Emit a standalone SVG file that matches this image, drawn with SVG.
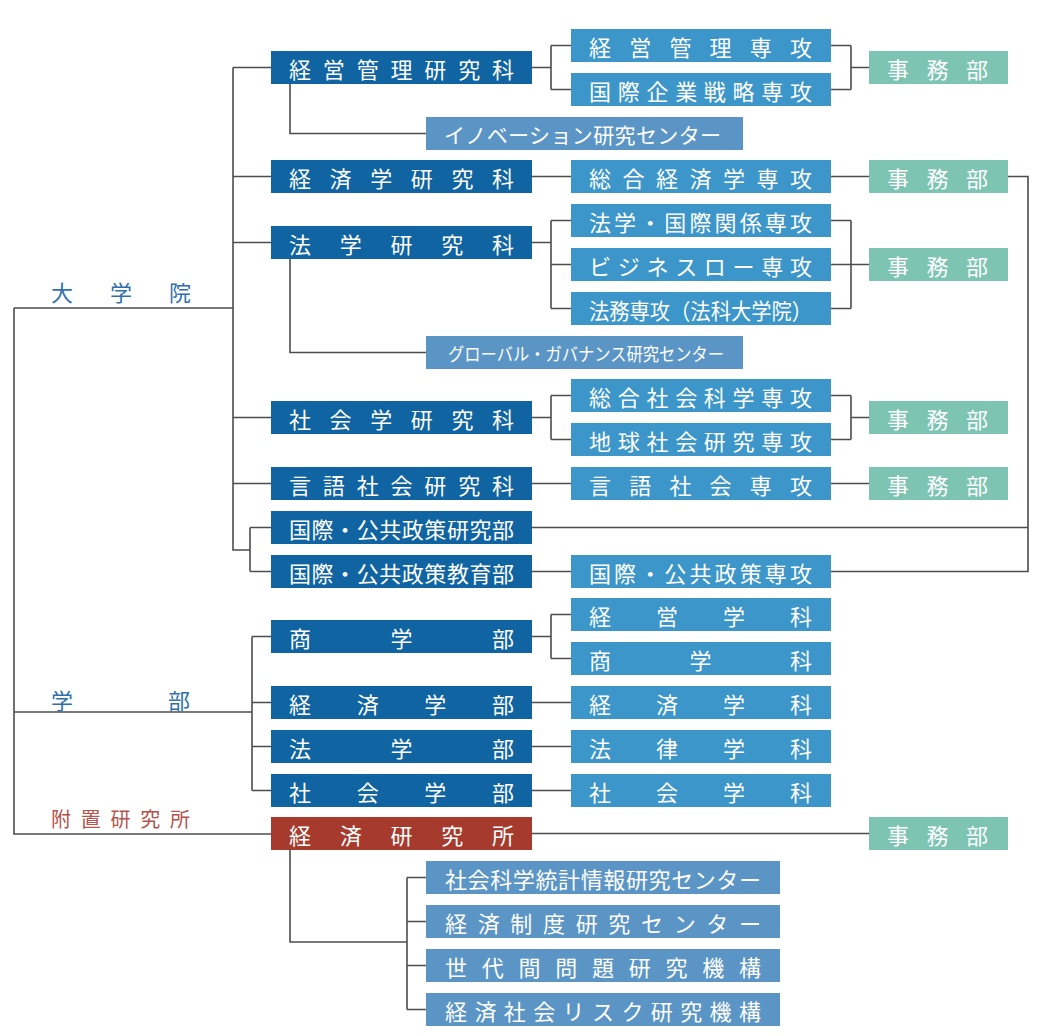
<svg xmlns="http://www.w3.org/2000/svg" width="1040" height="1036" viewBox="0 0 1040 1036">
<style>
text{font-family:"Noto Sans CJK JP","Noto Sans",sans-serif;font-size:22px;dominant-baseline:central}
.bt{fill:#ffffff}
.a{fill:#0f64a1}
.b{fill:#3c96c9}
.c{fill:#7dc4b3}
.d{fill:#5b95c6}
.r{fill:#a63b2d}
.lb{fill:#2f6fae}
.lr{fill:#b5534c}
.ln{fill:none;stroke:#4d4d4d;stroke-width:1.6}
</style>
<rect width="1040" height="1036" fill="#ffffff"/>
<g id="connectors" class="ln">
<path d="M14,308 H233 M14,308 V834 H271"/>
<path d="M233,67.5 V550 H250 M233,67.5 H271 M233,176.5 H271 M233,242.5 H271 M233,417.5 H271 M233,483.5 H271"/>
<path d="M250,527.5 V571.5 M250,527.5 H271 M250,571.5 H271"/>
<path d="M14,712 H252 M252,636.5 V790.5 M252,636.5 H271 M252,702.5 H271 M252,746.5 H271 M252,790.5 H271"/>
<path d="M532,67.5 H551 M551,45.5 V89.5 M551,45.5 H571 M551,89.5 H571 M831,45.5 H851 M831,89.5 H851 M851,45.5 V89.5 M851,67.5 H869"/>
<path d="M290,84 V133.5 H426"/>
<path d="M532,176.5 H571 M831,176.5 H869 M1008,176.5 H1028 V571.5 H831 M532,527.5 H1028"/>
<path d="M532,242.5 H551 M551,220.5 V308.5 M551,220.5 H571 M551,264.5 H571 M551,308.5 H571 M831,220.5 H851 M831,308.5 H851 M851,220.5 V308.5 M831,264.5 H869"/>
<path d="M290,259 V352.5 H426"/>
<path d="M532,417.5 H551 M551,395.5 V439.5 M551,395.5 H571 M551,439.5 H571 M831,395.5 H851 M831,439.5 H851 M851,395.5 V439.5 M851,417.5 H869"/>
<path d="M532,483.5 H571 M831,483.5 H869 M532,571.5 H571"/>
<path d="M532,636.5 H551 M551,614.5 V658.5 M551,614.5 H571 M551,658.5 H571 M532,702.5 H571 M532,746.5 H571 M532,790.5 H571"/>
<path d="M532,833.5 H869 M290,850 V942 H407 M407,877.5 V1009.5 M407,877.5 H426 M407,921.5 H426 M407,965.5 H426 M407,1009.5 H426"/>
</g>
<g id="label-daigakuin"><text class="lb" x="51" y="291" textLength="140" lengthAdjust="spacing">大学院</text></g>
<g id="label-gakubu"><text class="lb" x="51" y="699" textLength="139" lengthAdjust="spacing">学部</text></g>
<g id="label-fuchi"><text class="lr" x="51" y="818" style="font-size:20px" textLength="139" lengthAdjust="spacing">附置研究所</text></g>
<g id="n-keiei-kenkyuka"><rect class="a" x="271" y="51" width="261" height="33"/><text class="bt" x="289" y="67.5" textLength="225" lengthAdjust="spacing">経営管理研究科</text></g>
<g id="n-keiei-senko"><rect class="b" x="571" y="29" width="260" height="33"/><text class="bt" x="589" y="45.5" textLength="223" lengthAdjust="spacing">経営管理専攻</text></g>
<g id="n-kokusai-kigyo"><rect class="b" x="571" y="73" width="260" height="33"/><text class="bt" x="589" y="89.5" textLength="223" lengthAdjust="spacing">国際企業戦略専攻</text></g>
<g id="n-jimu1"><rect class="c" x="869" y="51" width="139" height="33"/><text class="bt" x="887" y="67.5" textLength="101" lengthAdjust="spacing">事務部</text></g>
<g id="n-innovation"><rect class="d" x="426" y="117" width="317" height="33"/><text class="bt" x="444" y="133.5" style="font-size:21px" textLength="277" lengthAdjust="spacing">イノベーション研究センター</text></g>
<g id="n-keizai-kenkyuka"><rect class="a" x="271" y="160" width="261" height="33"/><text class="bt" x="289" y="176.5" textLength="225" lengthAdjust="spacing">経済学研究科</text></g>
<g id="n-sogo-keizai"><rect class="b" x="571" y="160" width="260" height="33"/><text class="bt" x="589" y="176.5" textLength="223" lengthAdjust="spacing">総合経済学専攻</text></g>
<g id="n-jimu2"><rect class="c" x="869" y="160" width="139" height="33"/><text class="bt" x="887" y="176.5" textLength="101" lengthAdjust="spacing">事務部</text></g>
<g id="n-hogaku-kenkyuka"><rect class="a" x="271" y="226" width="261" height="33"/><text class="bt" x="289" y="242.5" textLength="225" lengthAdjust="spacing">法学研究科</text></g>
<g id="n-hogaku-kokusai"><rect class="b" x="571" y="204" width="260" height="33"/><text class="bt" x="589" y="220.5" textLength="223" lengthAdjust="spacing">法学・国際関係専攻</text></g>
<g id="n-business-law"><rect class="b" x="571" y="248" width="260" height="33"/><text class="bt" x="589" y="264.5" textLength="223" lengthAdjust="spacing">ビジネスロー専攻</text></g>
<g id="n-homu"><rect class="b" x="571" y="292" width="260" height="33"/><text class="bt" x="589" y="308.5" textLength="223" lengthAdjust="spacingAndGlyphs">法務専攻（法科大学院）</text></g>
<g id="n-jimu3"><rect class="c" x="869" y="248" width="139" height="33"/><text class="bt" x="887" y="264.5" textLength="101" lengthAdjust="spacing">事務部</text></g>
<g id="n-global"><rect class="d" x="426" y="336" width="317" height="33"/><text class="bt" x="448" y="352.5" style="font-size:18px" textLength="276" lengthAdjust="spacingAndGlyphs">グローバル・ガバナンス研究センター</text></g>
<g id="n-shakai-kenkyuka"><rect class="a" x="271" y="401" width="261" height="33"/><text class="bt" x="289" y="417.5" textLength="225" lengthAdjust="spacing">社会学研究科</text></g>
<g id="n-sogo-shakai"><rect class="b" x="571" y="379" width="260" height="33"/><text class="bt" x="589" y="395.5" textLength="223" lengthAdjust="spacing">総合社会科学専攻</text></g>
<g id="n-chikyu"><rect class="b" x="571" y="423" width="260" height="33"/><text class="bt" x="589" y="439.5" textLength="223" lengthAdjust="spacing">地球社会研究専攻</text></g>
<g id="n-jimu4"><rect class="c" x="869" y="401" width="139" height="33"/><text class="bt" x="887" y="417.5" textLength="101" lengthAdjust="spacing">事務部</text></g>
<g id="n-gengo-kenkyuka"><rect class="a" x="271" y="467" width="261" height="33"/><text class="bt" x="289" y="483.5" textLength="225" lengthAdjust="spacing">言語社会研究科</text></g>
<g id="n-gengo-senko"><rect class="b" x="571" y="467" width="260" height="33"/><text class="bt" x="589" y="483.5" textLength="223" lengthAdjust="spacing">言語社会専攻</text></g>
<g id="n-jimu5"><rect class="c" x="869" y="467" width="139" height="33"/><text class="bt" x="887" y="483.5" textLength="101" lengthAdjust="spacing">事務部</text></g>
<g id="n-kokyo-kenkyubu"><rect class="a" x="271" y="511" width="261" height="33"/><text class="bt" x="289" y="527.5" textLength="225" lengthAdjust="spacing">国際・公共政策研究部</text></g>
<g id="n-kokyo-kyoikubu"><rect class="a" x="271" y="555" width="261" height="33"/><text class="bt" x="289" y="571.5" textLength="225" lengthAdjust="spacing">国際・公共政策教育部</text></g>
<g id="n-kokyo-senko"><rect class="b" x="571" y="555" width="260" height="33"/><text class="bt" x="589" y="571.5" textLength="223" lengthAdjust="spacing">国際・公共政策専攻</text></g>
<g id="n-shogakubu"><rect class="a" x="271" y="620" width="261" height="33"/><text class="bt" x="289" y="636.5" textLength="225" lengthAdjust="spacing">商学部</text></g>
<g id="n-keiei-gakka"><rect class="b" x="571" y="598" width="260" height="33"/><text class="bt" x="589" y="614.5" textLength="223" lengthAdjust="spacing">経営学科</text></g>
<g id="n-sho-gakka"><rect class="b" x="571" y="642" width="260" height="33"/><text class="bt" x="589" y="658.5" textLength="223" lengthAdjust="spacing">商学科</text></g>
<g id="n-keizai-gakubu"><rect class="a" x="271" y="686" width="261" height="33"/><text class="bt" x="289" y="702.5" textLength="225" lengthAdjust="spacing">経済学部</text></g>
<g id="n-keizai-gakka"><rect class="b" x="571" y="686" width="260" height="33"/><text class="bt" x="589" y="702.5" textLength="223" lengthAdjust="spacing">経済学科</text></g>
<g id="n-hogakubu"><rect class="a" x="271" y="730" width="261" height="33"/><text class="bt" x="289" y="746.5" textLength="225" lengthAdjust="spacing">法学部</text></g>
<g id="n-horitsu-gakka"><rect class="b" x="571" y="730" width="260" height="33"/><text class="bt" x="589" y="746.5" textLength="223" lengthAdjust="spacing">法律学科</text></g>
<g id="n-shakai-gakubu"><rect class="a" x="271" y="774" width="261" height="33"/><text class="bt" x="289" y="790.5" textLength="225" lengthAdjust="spacing">社会学部</text></g>
<g id="n-shakai-gakka"><rect class="b" x="571" y="774" width="260" height="33"/><text class="bt" x="589" y="790.5" textLength="223" lengthAdjust="spacing">社会学科</text></g>
<g id="n-keizai-kenkyusho"><rect class="r" x="271" y="817" width="261" height="33"/><text class="bt" x="289" y="833.5" textLength="225" lengthAdjust="spacing">経済研究所</text></g>
<g id="n-jimu6"><rect class="c" x="869" y="817" width="139" height="33"/><text class="bt" x="887" y="833.5" textLength="101" lengthAdjust="spacing">事務部</text></g>
<g id="n-tokei"><rect class="d" x="426" y="861" width="354" height="33"/><text class="bt" x="445" y="877.5" textLength="316" lengthAdjust="spacing">社会科学統計情報研究センター</text></g>
<g id="n-seido"><rect class="d" x="426" y="905" width="354" height="33"/><text class="bt" x="445" y="921.5" textLength="316" lengthAdjust="spacing">経済制度研究センター</text></g>
<g id="n-sedaikan"><rect class="d" x="426" y="949" width="354" height="33"/><text class="bt" x="445" y="965.5" textLength="316" lengthAdjust="spacing">世代間問題研究機構</text></g>
<g id="n-risk"><rect class="d" x="426" y="993" width="354" height="33"/><text class="bt" x="445" y="1009.5" textLength="316" lengthAdjust="spacing">経済社会リスク研究機構</text></g>
</svg>
